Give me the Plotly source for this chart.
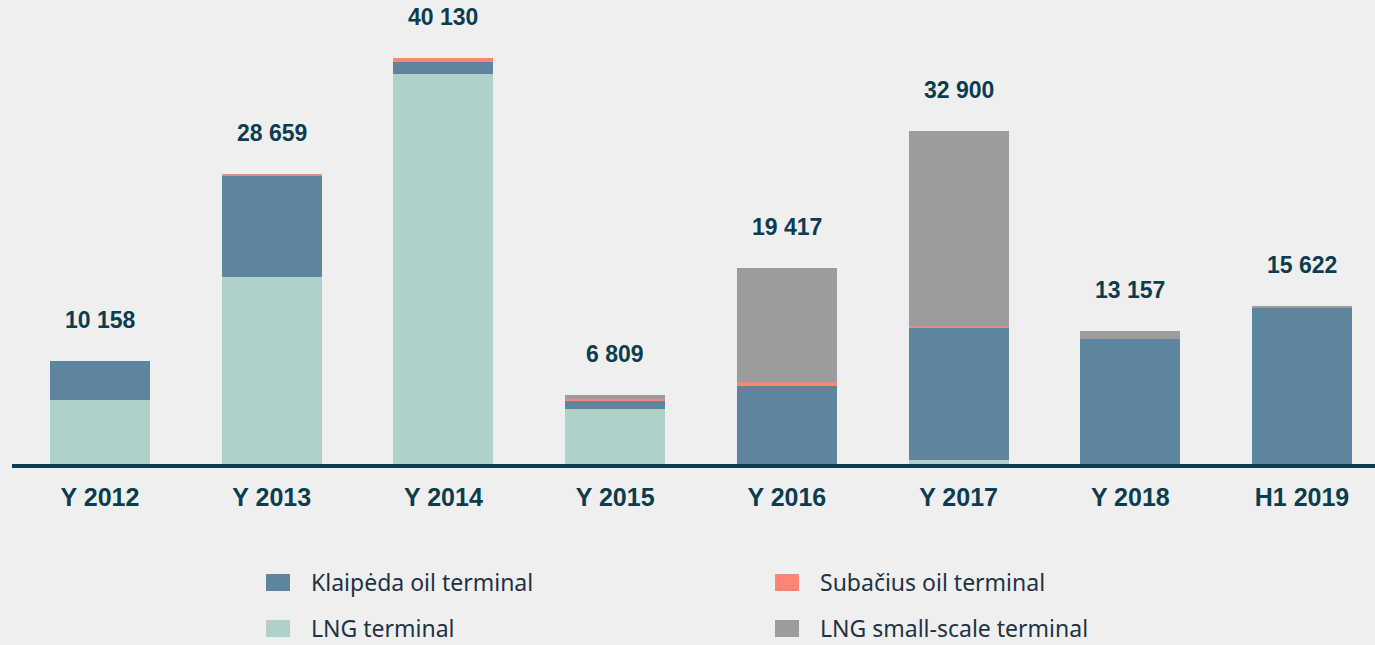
import plotly.graph_objects as go

# ------------------------------------------------------
# data (thousand tonnes)
# ------------------------------------------------------
categories = ["Y 2012", "Y 2013", "Y 2014", "Y 2015", "Y 2016", "Y 2017", "Y 2018", "H1 2019"]
lng_terminal = [6370, 18480, 38550, 5400, 0, 395, 0, 0]
klaipeda_oil = [3788, 9980, 1185, 800, 7730, 13040, 12350, 15422]
subacius_oil = [0, 199, 395, 200, 400, 200, 0, 0]
lng_small_scale = [0, 0, 0, 409, 11287, 19265, 807, 200]
totals = [10158, 28659, 40130, 6809, 19417, 32900, 13157, 15622]
total_labels = ["10 158", "28 659", "40 130", "6 809", "19 417", "32 900", "13 157", "15 622"]

# series in stacking order (bottom -> top)
series = [
    ("LNG terminal", lng_terminal, "#b0d1ca"),
    ("Klaipėda oil terminal", klaipeda_oil, "#5d859e"),
    ("Subačius oil terminal", subacius_oil, "#fe8473"),
    ("LNG small-scale terminal", lng_small_scale, "#9c9c9c"),
]
legend_order = ["Klaipėda oil terminal", "Subačius oil terminal",
                "LNG terminal", "LNG small-scale terminal"]

BG = "#efefef"
DARK = "#0b3d4f"
W, H = 1375, 645
ML, MB = 12, 181
PLOT_W, PLOT_H = W - ML, H - MB


def px_x(x):
    return (x - ML) / PLOT_W


def px_y(y):
    return (PLOT_H - y) / PLOT_H


fig = go.Figure()
for name, vals, color in series:
    fig.add_trace(go.Bar(x=categories, y=vals, name=name, marker_color=color,
                         marker_line_width=0, width=0.582, showlegend=False,
                         hoverinfo="skip"))

# total labels above bars
for cat, tot, lab in zip(categories, totals, total_labels):
    fig.add_annotation(x=cat, y=tot, text=f"<b>{lab}</b>", showarrow=False,
                       yanchor="middle", yshift=41,
                       font=dict(family="Liberation Sans, Arial", size=23, color=DARK))

# hand-made legend (2 x 2)
colors = {n: c for n, _, c in series}
col_x = [266, 775]
row_y = [582, 628]
for i, name in enumerate(legend_order):
    cx, ry = col_x[i % 2], row_y[i // 2]
    fig.add_shape(type="rect", xref="paper", yref="paper",
                  x0=px_x(cx), x1=px_x(cx + 24), y0=px_y(ry - 8), y1=px_y(ry + 9),
                  fillcolor=colors[name], line_width=0)
    fig.add_annotation(xref="paper", yref="paper", x=px_x(cx + 43), y=px_y(ry),
                       text=name, showarrow=False, xanchor="left", yanchor="middle",
                       font=dict(family="Noto Sans", size=23, color="#1f3344"))

fig.update_layout(
    width=W, height=H,
    barmode="stack",
    paper_bgcolor=BG, plot_bgcolor=BG,
    margin=dict(l=ML, r=0, t=0, b=MB),
    showlegend=False,
)
fig.update_xaxes(range=[-0.5125, 7.425], showline=True, linewidth=4, linecolor=DARK,
                 showgrid=False, ticks="", ticklabelstandoff=8,
                 tickfont=dict(family="Liberation Sans, Arial", size=25, color=DARK),
                 tickvals=categories, ticktext=[f"<b>{c}</b>" for c in categories])
fig.update_yaxes(range=[0, 45862], visible=False, showgrid=False, zeroline=False)

fig.write_html("out.html", config={"displayModeBar": False},
               post_script="document.body.style.margin='0';")
